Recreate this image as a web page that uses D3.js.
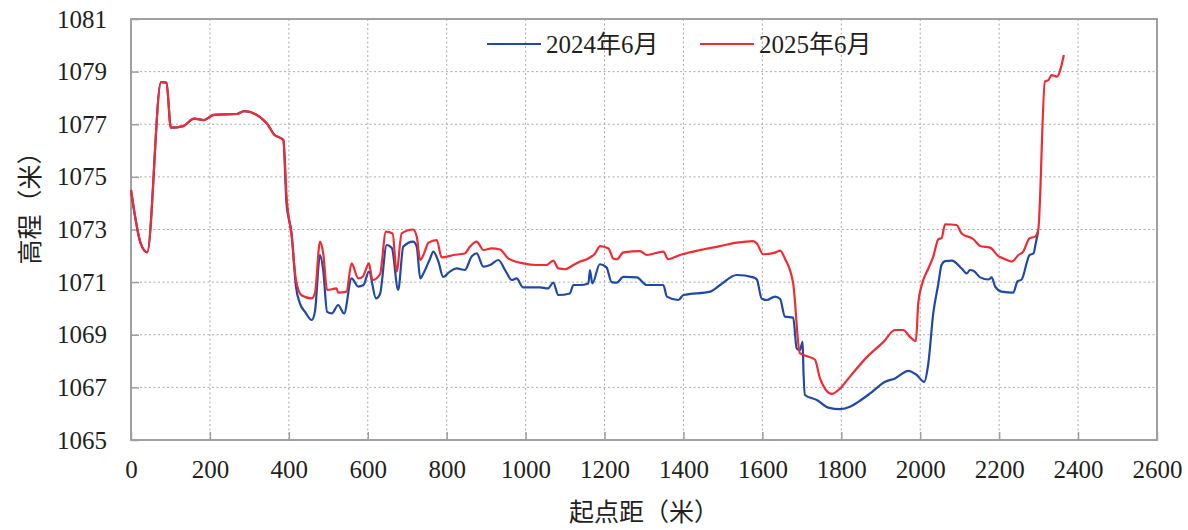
<!DOCTYPE html>
<html>
<head>
<meta charset="utf-8">
<script src="https://cdn.jsdelivr.net/npm/d3@7"></script>
<style>
  html, body { margin: 0; padding: 0; background: #fff; }
  svg { display: block; }
  text { font-family: "Liberation Serif", "Times New Roman", "Noto Sans CJK SC", serif; fill: #231f20; }
</style>
</head>
<body>
<svg id="chart" width="1188" height="530"></svg>
<script>
// ---- data ----
const seriesNames = ["2024年6月", "2025年6月"];
const xTicks = [0, 200, 400, 600, 800, 1000, 1200, 1400, 1600, 1800, 2000, 2200, 2400, 2600];
const yTicks = [1065, 1067, 1069, 1071, 1073, 1075, 1077, 1079, 1081];
const xLabel = "起点距（米）";
const yLabel = "高程（米）";

const dist2024 = [0, 25, 41, 76, 90, 101, 132, 160, 185, 210, 268, 287, 344, 362, 386,
  394, 407, 418, 428, 441, 458, 466, 479, 487, 497, 509, 525, 540, 559, 576, 589, 603, 621, 631,
  648, 661, 677, 690, 715, 724, 733, 741, 758, 766, 779, 791, 808, 825, 846, 863, 876, 893, 910,
  931, 948, 965, 977, 994, 1036, 1057, 1070, 1083, 1112, 1121, 1138, 1159, 1163, 1169, 1188, 1205,
  1218, 1231, 1248, 1282, 1307, 1349, 1358, 1387, 1400, 1468, 1493, 1535, 1577, 1586, 1598, 1611,
  1632, 1645, 1657, 1678, 1687, 1695, 1702, 1704, 1708, 1738, 1767, 1797, 1822, 1843, 1873, 1911,
  1936, 1970, 1991, 2010, 2020, 2033, 2046, 2054, 2063, 2080, 2105, 2118, 2126, 2135, 2152, 2173,
  2181, 2190, 2206, 2236, 2246, 2257, 2277, 2287, 2293, 2299];
const elev2024 = [1074.5, 1072.45, 1072.13, 1078.6, 1078.58, 1076.87, 1076.93, 1077.21, 1077.16, 1077.36, 1077.39, 1077.5, 1077.04, 1076.62, 1076.4,
  1074.0, 1072.85, 1070.83, 1070.19, 1069.87, 1069.56, 1069.87, 1072.03, 1071.46, 1069.87, 1069.81, 1070.13, 1069.81, 1071.14, 1070.83, 1070.89, 1071.4, 1070.38, 1070.55,
  1072.41, 1072.3, 1070.7, 1072.35, 1072.54, 1072.35, 1071.14, 1071.33, 1071.9, 1072.16, 1071.78, 1071.2, 1071.4, 1071.52, 1071.46, 1071.97, 1072.09, 1071.59, 1071.65,
  1071.84, 1071.46, 1071.08, 1071.14, 1070.8, 1070.8, 1070.76, 1070.98, 1070.51, 1070.57, 1070.89, 1070.89, 1070.95, 1071.46, 1070.95, 1071.68, 1071.56,
  1071.0, 1070.98, 1071.2, 1071.18, 1070.89, 1070.89, 1070.45, 1070.32, 1070.51, 1070.64, 1070.89, 1071.27, 1071.18, 1071.1, 1070.38, 1070.32,
  1070.45, 1070.36, 1069.69, 1069.65, 1068.48, 1068.42, 1068.73, 1067.66, 1066.71, 1066.52, 1066.23, 1066.17, 1066.26, 1066.45, 1066.77, 1067.21,
  1067.34, 1067.63, 1067.47, 1067.21, 1067.85, 1069.81, 1070.95, 1071.65, 1071.8, 1071.82, 1071.52, 1071.33, 1071.46, 1071.43, 1071.18, 1071.1,
  1071.18, 1070.83, 1070.64, 1070.6, 1071.02, 1071.1, 1072.03, 1072.09, 1072.5, 1072.92];

const dist2025 = [0, 25, 41, 76, 90, 101, 132, 160, 185, 210, 268, 287, 344, 362, 386,
  395, 407, 418, 432, 458, 466, 479, 487, 497, 521, 525, 546, 559, 576, 587, 603, 612, 631,
  646, 663, 673, 686, 715, 724, 733, 741, 754, 775, 787, 817, 846, 859, 876, 893, 914, 935, 956,
  994, 1028, 1053, 1070, 1083, 1100, 1121, 1138, 1159, 1176, 1189, 1210, 1222, 1231, 1248, 1290,
  1307, 1349, 1361, 1391, 1442, 1493, 1535, 1577, 1586, 1602, 1632, 1645, 1657, 1678, 1695, 1712,
  1733, 1746, 1776, 1797, 1822, 1864, 1907, 1936, 1957, 1974, 1989, 1995, 2004, 2020, 2033, 2046,
  2054, 2063, 2092, 2105, 2135, 2152, 2177, 2198, 2211, 2232, 2249, 2261, 2277, 2291, 2299, 2316,
  2325, 2333, 2346, 2364];
const elev2025 = [1074.5, 1072.45, 1072.13, 1078.6, 1078.58, 1076.87, 1076.93, 1077.21, 1077.16, 1077.36, 1077.39, 1077.5, 1077.04, 1076.62, 1076.4,
  1074.1, 1072.75, 1071.08, 1070.5, 1070.38, 1070.57, 1072.54, 1072.1, 1070.7, 1070.76, 1070.6, 1070.64, 1071.71, 1071.14, 1071.2, 1071.71, 1071.08, 1071.3,
  1072.92, 1072.85, 1071.4, 1072.85, 1073.0, 1072.73, 1071.84, 1072.03, 1072.5, 1072.6, 1071.94, 1072.03, 1072.09, 1072.35, 1072.54, 1072.22, 1072.28, 1072.24, 1071.9,
  1071.71, 1071.65, 1071.65, 1071.82, 1071.52, 1071.49, 1071.65, 1071.78, 1071.9, 1072.09, 1072.37, 1072.28, 1071.9, 1071.87, 1072.13, 1072.18,
  1072.03, 1072.16, 1071.87, 1072.03, 1072.22, 1072.37, 1072.5, 1072.56, 1072.47, 1072.06, 1072.12, 1072.2, 1071.9, 1070.95, 1068.3, 1068.19,
  1068.06, 1067.34, 1066.75, 1066.96, 1067.41, 1068.14, 1068.73, 1069.18, 1069.18, 1068.92, 1068.76, 1070.19, 1070.9, 1071.5, 1071.97, 1072.63,
  1072.67, 1073.2, 1073.17, 1072.85, 1072.63, 1072.37, 1072.31, 1071.99, 1071.9, 1071.78, 1072.03, 1072.16, 1072.67, 1072.73, 1072.98, 1078.62,
  1078.68, 1078.87, 1078.81, 1079.63];

const colors = ["#2148a4", "#ef2b33"];

// ---- layout ----
const svg = d3.select("#chart");
const mLeft = 131, mRight = 1157, mTop = 19, mBottom = 440;
const x = d3.scaleLinear().domain([0, 2600]).range([mLeft, mRight]);
const y = d3.scaleLinear().domain([1065, 1081]).range([mBottom, mTop]);

// gridlines
const grid = svg.append("g");
grid.selectAll("line.h").data(yTicks.slice(1, -1)).join("line")
  .attr("x1", mLeft).attr("x2", mRight)
  .attr("y1", d => y(d)).attr("y2", d => y(d))
  .attr("stroke", "#aaaaaa").attr("stroke-width", 1).attr("stroke-dasharray", "2,2.5");
grid.selectAll("line.v").data(xTicks.slice(1, -1)).join("line")
  .attr("x1", d => x(d)).attr("x2", d => x(d))
  .attr("y1", mTop).attr("y2", mBottom)
  .attr("stroke", "#aaaaaa").attr("stroke-width", 1).attr("stroke-dasharray", "2,2.5");

// axes (inward ticks)
const xAxis = d3.axisBottom(x).tickValues(xTicks).tickSize(-8).tickPadding(20).tickFormat(d3.format("d"));
const yAxis = d3.axisLeft(y).tickValues(yTicks).tickSize(-8).tickPadding(24).tickFormat(d3.format("d"));
const gx = svg.append("g").attr("transform", `translate(0,${mBottom})`).call(xAxis);
const gy = svg.append("g").attr("transform", `translate(${mLeft},0)`).call(yAxis);
[gx, gy].forEach(g => {
  g.select(".domain").remove();
  g.selectAll(".tick line").attr("stroke", "#a0a0a0").attr("stroke-width", 1.5);
  g.selectAll(".tick text").attr("font-size", 25).attr("fill", "#231f20")
    .style("font-family", "'Liberation Serif', 'Times New Roman', serif");
});
gx.selectAll(".tick text").attr("dy", "0.71em");

// frame
svg.append("rect").attr("x", mLeft).attr("y", mTop).attr("width", mRight - mLeft).attr("height", mBottom - mTop)
  .attr("fill", "none").attr("stroke", "#a0a0a0").attr("stroke-width", 2);

// lines
const line = d3.line().x(d => x(d[0])).y(d => y(d[1])).curve(d3.curveMonotoneX);
const s2024 = dist2024.map((d, i) => [d, elev2024[i]]);
const s2025 = dist2025.map((d, i) => [d, elev2025[i]]);
[s2024, s2025].forEach((s, i) => {
  svg.append("path").datum(s).attr("d", line)
    .attr("fill", "none").attr("stroke", colors[i]).attr("stroke-width", 2.2)
    .attr("stroke-linejoin", "round");
});

// legend
const legendX = [487, 700];
seriesNames.forEach((name, i) => {
  const g = svg.append("g").attr("transform", `translate(${legendX[i]},44)`);
  g.append("line").attr("x1", 0).attr("x2", 54).attr("y1", 0).attr("y2", 0)
    .attr("stroke", colors[i]).attr("stroke-width", 2.2);
  g.append("text").attr("x", 59).attr("y", 0).attr("dy", "0.35em").attr("font-size", 25).text(name);
});

// axis titles
svg.append("text").attr("x", (mLeft + mRight) / 2).attr("y", 512).attr("dy", "0.35em")
  .attr("text-anchor", "middle").attr("font-size", 25).text(xLabel);
svg.append("text").attr("transform", "translate(30,202) rotate(-90)").attr("dy", "0.35em")
  .attr("text-anchor", "middle").attr("font-size", 25).text(yLabel);
</script>
</body>
</html>
